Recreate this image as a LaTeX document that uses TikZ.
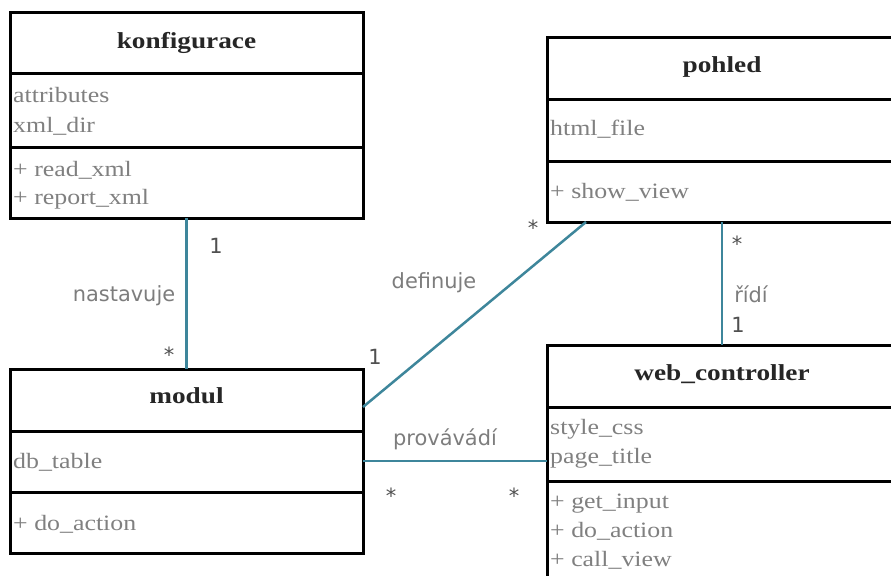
\documentclass[tikz,border=0pt]{standalone}
\usepackage{fontspec}
\setmainfont{Liberation Serif}
\newfontfamily\classfont[FakeStretch=1.19]{Liberation Serif}
\newfontfamily\memberfont[FakeStretch=1.18]{Liberation Serif}
\newfontfamily\labelfont{DejaVu Sans}

\definecolor{assoccolor}{RGB}{62,134,155}
\definecolor{membergray}{RGB}{128,128,128}
\definecolor{labelgray}{RGB}{125,125,125}
\definecolor{multgray}{RGB}{80,80,80}

\tikzset{
  classbox/.style={draw=black, line width=3bp, rectangle, inner sep=0pt,
    outer sep=0pt, anchor=north west, fill=white},
  divider/.style={draw=black, line width=3bp},
  classtitle/.style={anchor=base, inner sep=0pt,
    font=\classfont\bfseries\fontsize{23}{28}\selectfont, text=black!85},
  member/.style={anchor=base west, inner sep=0pt,
    font=\memberfont\fontsize{22}{28}\selectfont, text=membergray},
  assoc/.style={draw=assoccolor, line width=2.5bp},
  rolename/.style={anchor=base, inner sep=0pt,
    font=\labelfont\fontsize{21}{25}\selectfont, text=labelgray},
  mult/.style={anchor=base, inner sep=0pt,
    font=\labelfont\fontsize{21}{25}\selectfont, text=multgray},
}

\begin{document}
\begin{tikzpicture}[x=1bp, y=-1bp]
  \useasboundingbox (0,0) rectangle (891,576);
  \clip (0,0) rectangle (891,576);
  \fill[white] (0,0) rectangle (891,576);

  % class konfigurace
  \node[classbox, minimum width=353bp, minimum height=205bp] (konf) at (10,13) {};
  \draw[divider] ([yshift=-61bp]konf.north west) -- ([yshift=-61bp]konf.north east);
  \draw[divider] ([yshift=-134bp]konf.north west) -- ([yshift=-134bp]konf.north east);
  \node[classtitle] (konfT) at ([yshift=-36bp]konf.north) {konfigurace};
  \node[member] (konfA1) at ([xshift=3bp,yshift=-90bp]konf.north west) {attributes};
  \node[member] (konfA2) at ([xshift=3bp,yshift=-119bp]konf.north west) {xml\_dir};
  \node[member] (konfO1) at ([xshift=3bp,yshift=-163bp]konf.north west) {+ read\_xml};
  \node[member] (konfO2) at ([xshift=3bp,yshift=-191bp]konf.north west) {+ report\_xml};

  % class pohled
  \node[classbox, minimum width=350bp, minimum height=184bp] (pohled) at (547,38) {};
  \draw[divider] ([yshift=-62bp]pohled.north west) -- ([yshift=-62bp]pohled.north east);
  \draw[divider] ([yshift=-123bp]pohled.north west) -- ([yshift=-123bp]pohled.north east);
  \node[classtitle] (pohledT) at ([yshift=-35bp]pohled.north) {pohled};
  \node[member] (pohledA1) at ([xshift=3bp,yshift=-98bp]pohled.north west) {html\_file};
  \node[member] (pohledO1) at ([xshift=3bp,yshift=-160bp]pohled.north west) {+ show\_view};

  % class modul
  \node[classbox, minimum width=353bp, minimum height=184bp] (modul) at (10,369) {};
  \draw[divider] ([yshift=-62bp]modul.north west) -- ([yshift=-62bp]modul.north east);
  \draw[divider] ([yshift=-123bp]modul.north west) -- ([yshift=-123bp]modul.north east);
  \node[classtitle] (modulT) at ([yshift=-34bp]modul.north) {modul};
  \node[member] (modulA1) at ([xshift=3bp,yshift=-99bp]modul.north west) {db\_table};
  \node[member] (modulO1) at ([xshift=3bp,yshift=-161bp]modul.north west) {+ do\_action};

  % class web_controller
  \node[classbox, minimum width=350bp, minimum height=250bp] (wc) at (547,345) {};
  \draw[divider] ([yshift=-62bp]wc.north west) -- ([yshift=-62bp]wc.north east);
  \draw[divider] ([yshift=-136bp]wc.north west) -- ([yshift=-136bp]wc.north east);
  \node[classtitle] (wcT) at ([yshift=-35bp]wc.north) {web\_controller};
  \node[member] (wcA1) at ([xshift=3bp,yshift=-89bp]wc.north west) {style\_css};
  \node[member] (wcA2) at ([xshift=3bp,yshift=-118bp]wc.north west) {page\_title};
  \node[member] (wcO1) at ([xshift=3bp,yshift=-163bp]wc.north west) {+ get\_input};
  \node[member] (wcO2) at ([xshift=3bp,yshift=-192bp]wc.north west) {+ do\_action};
  \node[member] (wcO3) at ([xshift=3bp,yshift=-221bp]wc.north west) {+ call\_view};

  % association end points
  \coordinate (defModul) at ([yshift=-38bp]modul.north east);
  \coordinate (defPohled) at ([xshift=39bp]pohled.south west);

  % associations
  \draw[assoc] (konf.south) -- (modul.north);
  \draw[assoc] (defModul) -- (defPohled);
  \draw[assoc] (modul.east) -- (modul.east -| wc.west);
  \draw[assoc] (pohled.south) -- (pohled.south |- wc.north);

  % role names and multiplicities
  \node[rolename] (lNast) at (124,301) {nastavuje};
  \node[mult] (mKonf) at (216,254) {1};
  \node[mult] (mModulTop) at (169,362) {*};

  \node[rolename] (lDef) at (434,288) {definuje};
  \node[mult] (mModulRight) at (375,364) {1};
  \node[mult] (mPohledLeft) at (533,236) {*};

  \node[rolename] (lProv) at (445,445) {provávádí};
  \node[mult] (mProvA) at (391,503) {*};
  \node[mult] (mProvB) at (514,503) {*};

  \node[rolename] (lRidi) at (751,302) {řídí};
  \node[mult] (mPohledBot) at (737,252) {*};
  \node[mult] (mWc) at (738,332) {1};
\end{tikzpicture}
\end{document}
